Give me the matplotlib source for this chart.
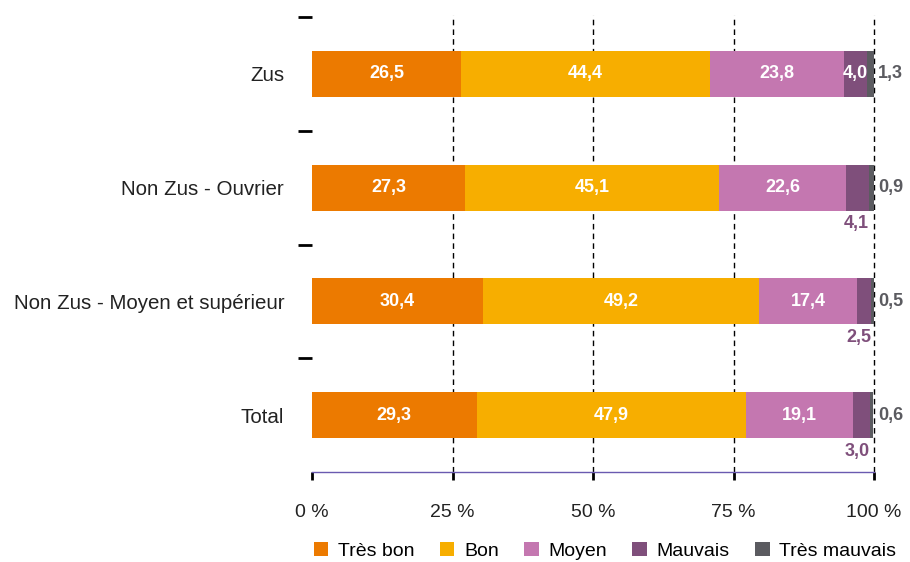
import matplotlib
matplotlib.use("Agg")
import matplotlib.pyplot as plt
from matplotlib.patches import Patch
import numpy as np

plt.rcParams['font.family'] = ['Liberation Sans', 'DejaVu Sans']

categories = ["Zus", "Non Zus - Ouvrier", "Non Zus - Moyen et supérieur", "Total"]
series_names = ["Très bon", "Bon", "Moyen", "Mauvais", "Très mauvais"]
tres_bon = [26.5, 27.3, 30.4, 29.3]
bon = [44.4, 45.1, 49.2, 47.9]
moyen = [23.8, 22.6, 17.4, 19.1]
mauvais = [4.0, 4.1, 2.5, 3.0]
tres_mauvais = [1.3, 0.9, 0.5, 0.6]
x_ticks = [0, 25, 50, 75, 100]
x_tick_labels = ["0 %", "25 %", "50 %", "75 %", "100 %"]

colors = ["#EC7A00", "#F7AE00", "#C477B0", "#7F4F7B", "#5B5B60"]
series = [tres_bon, bon, moyen, mauvais, tres_mauvais]

fig = plt.figure(figsize=(9.1, 5.62), dpi=100)
ax = fig.add_axes([312/910, 90/562, 562/910, 455/562])

ypos = np.arange(len(categories))[::-1]
h = 0.405
left = np.zeros(len(categories))
for si, (vals, col) in enumerate(zip(series, colors)):
    vals = np.array(vals)
    ax.barh(ypos, vals, left=left, height=h, color=col, zorder=3, linewidth=0)
    for i, v in enumerate(vals):
        y = ypos[i]
        if si < 3 or (si == 3 and v >= 3.5 and i == 0):
            ax.text(left[i] + v / 2, y, f"{v:.1f}".replace(".", ","), ha="center", va="center",
                    color="white", fontweight="bold", fontsize=13, zorder=5)
        elif si == 3:
            ax.text(left[i] + v, y - h / 2 - 0.04, f"{v:.1f}".replace(".", ","), ha="right", va="top",
                    color=colors[3], fontweight="bold", fontsize=13, zorder=5)
        else:
            ax.text(100.7, y, f"{v:.1f}".replace(".", ","), ha="left", va="center",
                    color=colors[4], fontweight="bold", fontsize=13, zorder=5, clip_on=False)
    left += vals

ax.set_xlim(0, 100)
ax.set_ylim(-0.5, 3.5)

for xv in [25, 50, 75, 100]:
    ax.plot([xv, xv], [-0.5, 3.52], color="black", linestyle=(0, (4, 3)), linewidth=1,
            zorder=2, clip_on=False)

for s in ["top", "right", "left"]:
    ax.spines[s].set_visible(False)
ax.spines["bottom"].set_color("#6A5AB0")
ax.spines["bottom"].set_linewidth(1)

ax.set_xticks(x_ticks)
ax.set_xticklabels(x_tick_labels, fontsize=14, color="#222222")
ax.tick_params(axis="x", direction="out", length=6, width=2, color="black", pad=17)

ax.set_yticks(ypos)
ax.set_yticklabels(categories, fontsize=14.8, color="#222222")
ax.tick_params(axis="y", which="major", length=0, pad=20)
ax.set_yticks([3.5, 2.5, 1.5, 0.5], minor=True)
ax.tick_params(axis="y", which="minor", direction="out", length=10, width=2, color="black")

handles = [Patch(facecolor=c, edgecolor="none") for c in colors]
fig.legend(handles, series_names, loc="center", bbox_to_anchor=(605/910, 1 - 551/562), ncol=5,
           frameon=False, fontsize=14, handlelength=0.75, handleheight=0.75, handletextpad=0.5,
           columnspacing=1.3, borderaxespad=0)

fig.savefig("out.png", dpi=100)
